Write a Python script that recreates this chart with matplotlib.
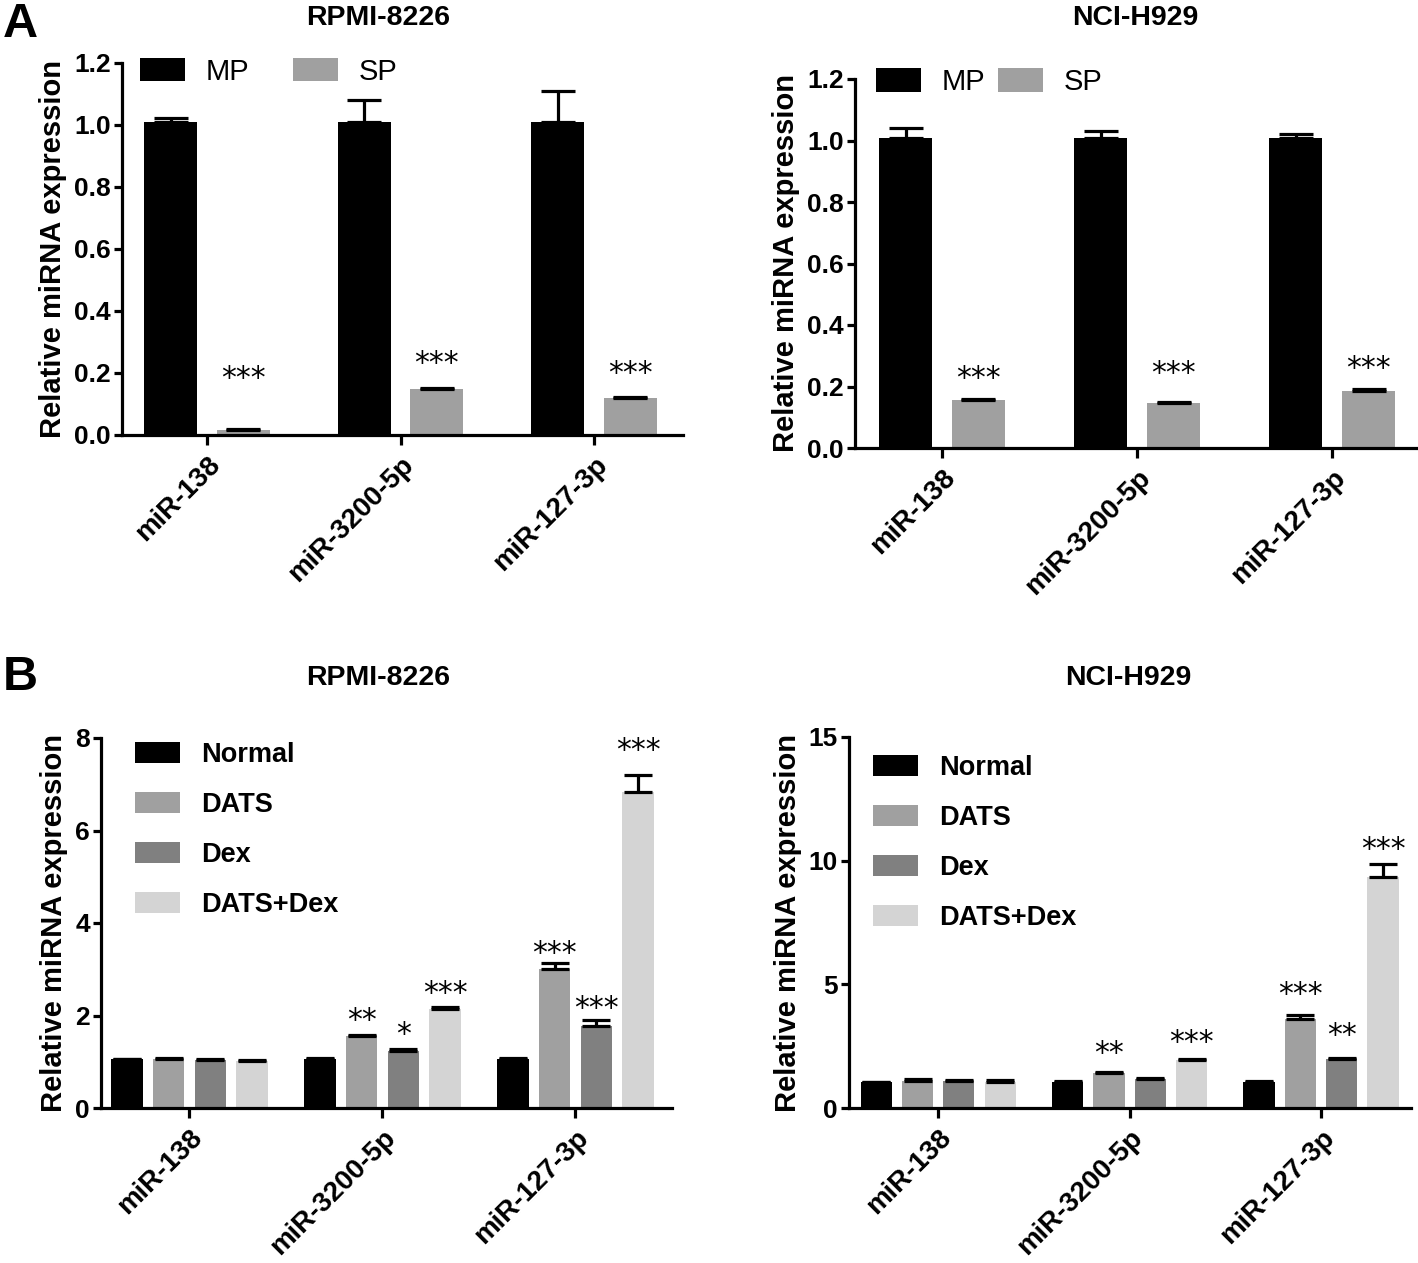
import numpy as np
import matplotlib
matplotlib.use("Agg")
import matplotlib.pyplot as plt

plt.rcParams['font.family'] = ['Liberation Sans', 'DejaVu Sans']

# === Data ===
mirnas = ["miR-138", "miR-3200-5p", "miR-127-3p"]

# Panel A: main population vs side population
a_groups = ["MP", "SP"]
a_rpmi_mp = [1.01, 1.01, 1.01]
a_rpmi_mp_err = [0.014, 0.072, 0.10]
a_rpmi_sp = [0.015, 0.148, 0.118]
a_rpmi_sp_err = [0.005, 0.005, 0.005]
a_rpmi_stars = ["***", "***", "***"]
a_rpmi_star_y = [0.182, 0.232, 0.20]

a_nci_mp = [1.007, 1.007, 1.007]
a_nci_mp_err = [0.033, 0.023, 0.013]
a_nci_sp = [0.155, 0.145, 0.186]
a_nci_sp_err = [0.005, 0.005, 0.005]
a_nci_stars = ["***", "***", "***"]
a_nci_star_y = [0.226, 0.241, 0.257]

# Panel B: treatments
b_groups = ["Normal", "DATS", "Dex", "DATS+Dex"]
b_rpmi = {
    "Normal":   [1.05, 1.05, 1.05],
    "DATS":     [1.05, 1.55, 3.00],
    "Dex":      [1.03, 1.23, 1.77],
    "DATS+Dex": [1.01, 2.15, 6.83],
}
b_rpmi_err = {
    "Normal":   [0.01, 0.03, 0.03],
    "DATS":     [0.03, 0.03, 0.14],
    "Dex":      [0.02, 0.04, 0.14],
    "DATS+Dex": [0.02, 0.04, 0.37],
}
b_rpmi_stars = {
    "Normal":   ["", "", ""],
    "DATS":     ["", "**", "***"],
    "Dex":      ["", "*", "***"],
    "DATS+Dex": ["", "***", "***"],
}
b_rpmi_star_y = {
    "Normal":   [0, 0, 0],
    "DATS":     [0, 1.90, 3.35],
    "Dex":      [0, 1.58, 2.15],
    "DATS+Dex": [0, 2.47, 7.72],
}

b_nci = {
    "Normal":   [1.06, 1.06, 1.06],
    "DATS":     [1.11, 1.42, 3.61],
    "Dex":      [1.10, 1.16, 1.99],
    "DATS+Dex": [1.05, 1.95, 9.34],
}
b_nci_err = {
    "Normal":   [0.01, 0.02, 0.03],
    "DATS":     [0.05, 0.05, 0.14],
    "Dex":      [0.05, 0.04, 0.05],
    "DATS+Dex": [0.07, 0.04, 0.53],
}
b_nci_stars = {
    "Normal":   ["", "", ""],
    "DATS":     ["", "**", "***"],
    "Dex":      ["", "", "**"],
    "DATS+Dex": ["", "***", "***"],
}
b_nci_star_y = {
    "Normal":   [0, 0, 0],
    "DATS":     [0, 2.22, 4.59],
    "Dex":      [0, 0, 2.93],
    "DATS+Dex": [0, 2.64, 10.47],
}

a_colors = {"MP": "#000000", "SP": "#a0a0a0"}
b_colors = {"Normal": "#000000", "DATS": "#a0a0a0", "Dex": "#808080", "DATS+Dex": "#d4d4d4"}

W, H = 1418, 1263


def px_axes(left, top, right, bottom):
    return [left / W, 1 - bottom / H, (right - left) / W, (bottom - top) / H]


def style_axis(ax, ylim, yticks, yfmt, xlim):
    ax.set_ylim(*ylim)
    ax.set_xlim(*xlim)
    ax.set_yticks(yticks)
    ax.set_yticklabels([yfmt.format(v) for v in yticks], fontsize=19, fontweight='bold')
    ax.set_xticks(range(len(mirnas)))
    ax.set_xticklabels(mirnas, rotation=45, ha='right', va='top', rotation_mode='anchor',
                       fontsize=20, fontweight='bold')
    for s in ['top', 'right']:
        ax.spines[s].set_visible(False)
    for s in ['left', 'bottom']:
        ax.spines[s].set_linewidth(2.3)
    ax.tick_params(axis='y', width=2.3, length=6, direction='out', pad=2)
    ax.tick_params(axis='x', width=2.3, length=7, direction='out', pad=5)
    ax.set_ylabel("Relative miRNA expression", fontsize=21, fontweight='bold', labelpad=5)


def star_text(ax, x, y, s):
    ax.text(x, y, s, ha='center', va='center', fontsize=21.5, family='DejaVu Sans')


fig = plt.figure(figsize=(W / 100, H / 100), dpi=100)
x = np.arange(len(mirnas))

# === Panel A ===
aw = 0.274
aoff = 0.187
a_sets = [
    (a_rpmi_mp, a_rpmi_mp_err, a_rpmi_sp, a_rpmi_sp_err, a_rpmi_star_y, a_rpmi_stars,
     px_axes(122, 63, 683, 435), (-0.44, 2.46), (0.032, 1.014), 1.5),
    (a_nci_mp, a_nci_mp_err, a_nci_sp, a_nci_sp_err, a_nci_star_y, a_nci_stars,
     px_axes(855, 79, 1418, 448), (-0.446, 2.44), (0.037, 1.03), 0.45),
]
for mp, mpe, sp, spe, sy, st, pos, xlim, leg_xy, colsp in a_sets:
    ax = fig.add_axes(pos)
    ax.bar(x - aoff, mp, aw, color=a_colors["MP"], label="MP", zorder=2)
    ax.bar(x + aoff, sp, aw, color=a_colors["SP"], label="SP", zorder=2)
    ax.errorbar(x - aoff, mp, yerr=[np.zeros(3), mpe], fmt='none', ecolor='black',
                elinewidth=2.3, capsize=12, capthick=2.3, zorder=3)
    ax.errorbar(x + aoff, sp, yerr=[np.zeros(3), spe], fmt='none', ecolor='black',
                elinewidth=2.3, capsize=12, capthick=2.3, zorder=3)
    for j in range(3):
        star_text(ax, x[j] + aoff, sy[j], st[j])
    style_axis(ax, (0, 1.2), [0.0, 0.2, 0.4, 0.6, 0.8, 1.0, 1.2], "{:.1f}", xlim)
    ax.legend(loc='upper left', bbox_to_anchor=leg_xy, ncol=2, frameon=False,
              fontsize=21, handlelength=1.55, handleheight=0.86, columnspacing=colsp,
              handletextpad=0.7, borderpad=0, borderaxespad=0)

# === Panel B ===
bw = 0.163
bstep = 0.216
b_sets = [
    (b_rpmi, b_rpmi_err, b_rpmi_stars, b_rpmi_star_y, (0, 8), [0, 2, 4, 6, 8],
     px_axes(101, 738, 672, 1108), (-0.458, 2.5), (0.06, 0.989)),
    (b_nci, b_nci_err, b_nci_stars, b_nci_star_y, (0, 15), [0, 5, 10, 15],
     px_axes(849, 737, 1411, 1108), (-0.466, 2.47), (0.043, 0.951)),
]
for vals, errs, stars, sy, ylim, yticks, pos, xlim, leg_xy in b_sets:
    ax = fig.add_axes(pos)
    for k, g in enumerate(b_groups):
        xs = x + (k - 1.5) * bstep
        ax.bar(xs, vals[g], bw, color=b_colors[g], label=g, zorder=2)
        ax.errorbar(xs, vals[g], yerr=[np.zeros(3), errs[g]], fmt='none', ecolor='black',
                    elinewidth=2.3, capsize=10, capthick=2.3, zorder=3)
        for j in range(3):
            if stars[g][j]:
                star_text(ax, xs[j], sy[g][j], stars[g][j])
    style_axis(ax, ylim, yticks, "{:d}", xlim)
    ax.legend(loc='upper left', bbox_to_anchor=leg_xy, ncol=1, frameon=False,
              prop={'size': 19.5, 'weight': 'bold'}, handlelength=1.67, handleheight=0.8,
              labelspacing=0.88, handletextpad=0.75, borderpad=0, borderaxespad=0)

# titles and panel letters
titles = [("RPMI-8226", 378, 18), ("NCI-H929", 1135, 18),
          ("RPMI-8226", 378, 678), ("NCI-H929", 1128, 678)]
for t, tx, ty in titles:
    fig.text(tx / W, 1 - ty / H, t, fontsize=20.5, fontweight='bold', ha='center', va='center')

fig.text(3 / W, 1 - 2 / H, "A", fontsize=35, fontweight='bold', va='top', ha='left')
fig.text(3 / W, 1 - 655 / H, "B", fontsize=35, fontweight='bold', va='top', ha='left')

fig.savefig("out.png", dpi=100)
